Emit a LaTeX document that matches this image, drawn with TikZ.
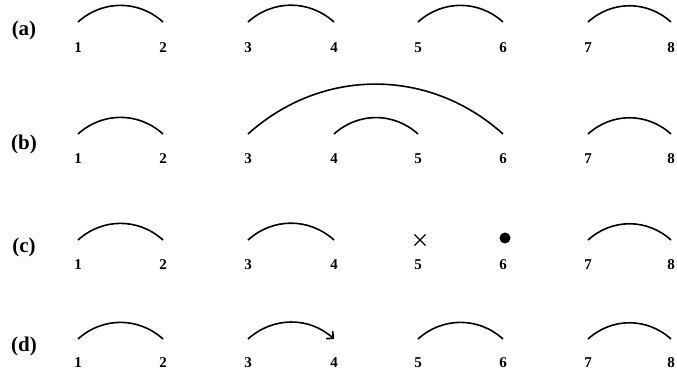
\documentclass[tikz,border=0pt]{standalone}
\usepackage{fontspec}
\setmainfont{Liberation Serif}
\usetikzlibrary{positioning,arrows.meta,shapes.misc}

\begin{document}
\begin{tikzpicture}[x=1pt, y=1pt,
    num/.style={font=\fontsize{15}{16}\selectfont\bfseries, inner sep=0pt},
    tag/.style={font=\fontsize{21}{22}\selectfont\bfseries, inner sep=0pt},
    link/.style={line width=1.6pt, out=42, in=138},
    jump/.style={link, -{Straight Barb[length=5pt, width=10pt]}},
]
  \useasboundingbox (0,0) rectangle (677,375);
  %% rows of positions
  \foreach \row/\ylab/\ytop/\ytag in {a/327/353/345, b/216/241/231, c/110/135/128, d/12/36/29}{
    \node[tag] (tag-\row) at (24,\ytag) {(\row)};
    \foreach \i/\x in {1/78, 2/163, 3/248, 4/334, 5/418, 6/503, 7/588, 8/671}{
      \node[num] (\row\i) at (\x,\ylab) {\i};
      \coordinate (\row\i-top) at (\x,\ytop);
    }
  }
  %% (a)
  \draw[link] (a1-top) to (a2-top);
  \draw[link] (a3-top) to (a4-top);
  \draw[link] (a5-top) to (a6-top);
  \draw[link] (a7-top) to (a8-top);
  %% (b)
  \draw[link] (b1-top) to (b2-top);
  \draw[link] (b3-top) to (b6-top);
  \draw[link] (b4-top) to (b5-top);
  \draw[link] (b7-top) to (b8-top);
  %% (c)
  \draw[link] (c1-top) to (c2-top);
  \draw[link] (c3-top) to (c4-top);
  \draw[link] (c7-top) to (c8-top);
  \node[draw, cross out, line width=1.1pt, minimum size=10pt, inner sep=0pt] (c5-cut) at ([xshift=2pt]c5-top) {};
  \node[circle, fill, minimum size=11pt, inner sep=0pt] (c6-dot) at ([xshift=2pt, yshift=2pt]c6-top) {};
  %% (d)
  \draw[link] (d1-top) to (d2-top);
  \draw[jump] (d3-top) to (d4-top);
  \draw[link] (d5-top) to (d6-top);
  \draw[link] (d7-top) to (d8-top);
\end{tikzpicture}
\end{document}
